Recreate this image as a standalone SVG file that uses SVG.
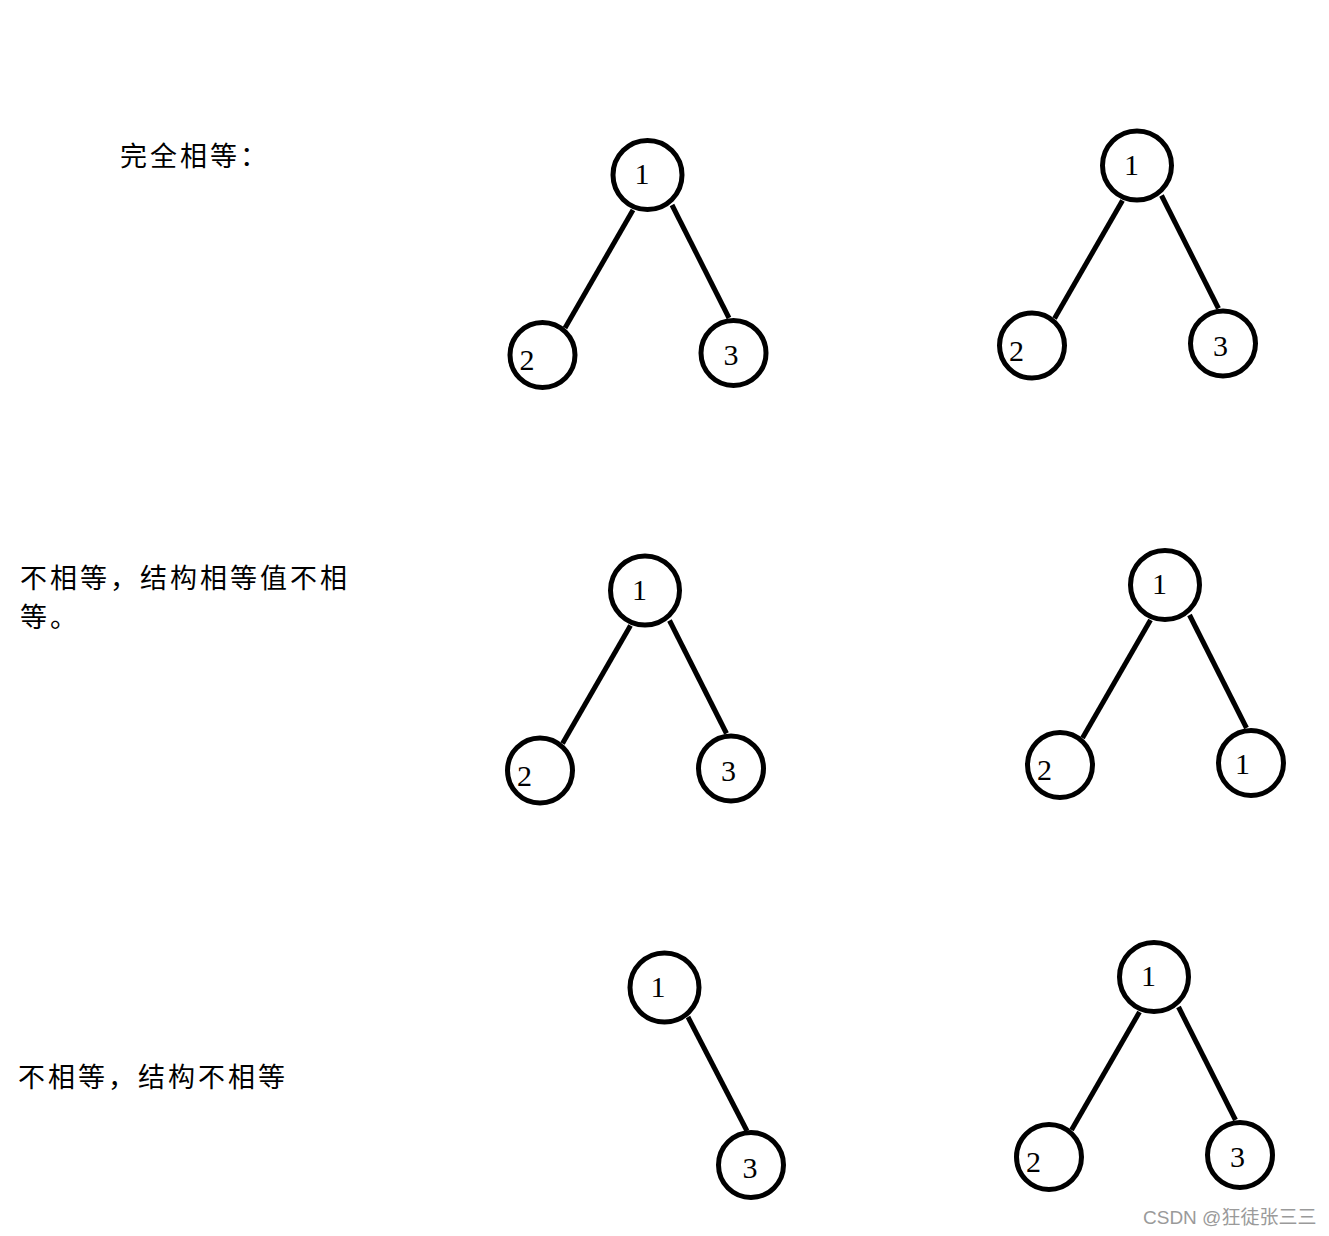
<svg xmlns="http://www.w3.org/2000/svg" width="1329" height="1236" viewBox="0 0 1329 1236">
<style>
.n{fill:#fff;stroke:#000;stroke-width:5}
.e{stroke:#000;stroke-width:5;fill:none}
.d{font-family:"Liberation Serif","DejaVu Serif",serif;font-size:30px;fill:#000;text-anchor:middle}
.t{font-family:"Noto Sans CJK SC","Noto Sans",sans-serif;font-size:27px;letter-spacing:3px;fill:#000}
.w{font-family:"Liberation Sans","Noto Sans CJK SC",sans-serif;font-size:19px;fill:#9a9a9a}
</style>
<rect width="1329" height="1236" fill="#fff"/>
<g id="labels">
<text class="t" x="120" y="166">完全相等：</text>
<text class="t" x="20" y="588">不相等，结构相等值不相</text>
<text class="t" x="20" y="627">等。</text>
<text class="t" x="18" y="1087">不相等，结构不相等</text>
</g>
<g id="connectors">
<g transform="translate(0,0)"><line class="e" x1="633" y1="210" x2="565" y2="328"/><line class="e" x1="672" y1="205" x2="729" y2="318"/></g>
<g transform="translate(489.5,-9.5)"><line class="e" x1="633" y1="210" x2="565" y2="328"/><line class="e" x1="672" y1="205" x2="729" y2="318"/></g>
<g transform="translate(-2.5,415.5)"><line class="e" x1="633" y1="210" x2="565" y2="328"/><line class="e" x1="672" y1="205" x2="729" y2="318"/></g>
<g transform="translate(517.5,410)"><line class="e" x1="633" y1="210" x2="565" y2="328"/><line class="e" x1="672" y1="205" x2="729" y2="318"/></g>
<line class="e" x1="688" y1="1017" x2="747" y2="1131"/>
<g transform="translate(506.5,802)"><line class="e" x1="633" y1="210" x2="565" y2="328"/><line class="e" x1="672" y1="205" x2="729" y2="318"/></g>
</g>
<g id="tree1">
<g id="t1-root"><circle class="n" cx="647.5" cy="175" r="34.5"/><text class="d" x="642" y="184">1</text></g>
<g id="t1-left"><circle class="n" cx="542.5" cy="355" r="32.5"/><text class="d" x="527" y="370">2</text></g>
<g id="t1-right"><circle class="n" cx="733.5" cy="353" r="32.5"/><text class="d" x="731" y="365">3</text></g>
</g>
<g id="tree2" transform="translate(489.5,-9.5)">
<g id="t2-root"><circle class="n" cx="647.5" cy="175" r="34.5"/><text class="d" x="642" y="184">1</text></g>
<g id="t2-left"><circle class="n" cx="542.5" cy="355" r="32.5"/><text class="d" x="527" y="370">2</text></g>
<g id="t2-right"><circle class="n" cx="733.5" cy="353" r="32.5"/><text class="d" x="731" y="365">3</text></g>
</g>
<g id="tree3" transform="translate(-2.5,415.5)">
<g id="t3-root"><circle class="n" cx="647.5" cy="175" r="34.5"/><text class="d" x="642" y="184">1</text></g>
<g id="t3-left"><circle class="n" cx="542.5" cy="355" r="32.5"/><text class="d" x="527" y="370">2</text></g>
<g id="t3-right"><circle class="n" cx="733.5" cy="353" r="32.5"/><text class="d" x="731" y="365">3</text></g>
</g>
<g id="tree4" transform="translate(517.5,410)">
<g id="t4-root"><circle class="n" cx="647.5" cy="175" r="34.5"/><text class="d" x="642" y="184">1</text></g>
<g id="t4-left"><circle class="n" cx="542.5" cy="355" r="32.5"/><text class="d" x="527" y="370">2</text></g>
<g id="t4-right"><circle class="n" cx="733.5" cy="353" r="32.5"/><text class="d" x="725" y="364">1</text></g>
</g>
<g id="tree5">
<g id="t5-root"><circle class="n" cx="664.5" cy="987.5" r="34.5"/><text class="d" x="658" y="997">1</text></g>
<g id="t5-right"><circle class="n" cx="751" cy="1165" r="32.5"/><text class="d" x="750" y="1178">3</text></g>
</g>
<g id="tree6" transform="translate(506.5,802)">
<g id="t6-root"><circle class="n" cx="647.5" cy="175" r="34.5"/><text class="d" x="642" y="184">1</text></g>
<g id="t6-left"><circle class="n" cx="542.5" cy="355" r="32.5"/><text class="d" x="527" y="370">2</text></g>
<g id="t6-right"><circle class="n" cx="733.5" cy="353" r="32.5"/><text class="d" x="731" y="365">3</text></g>
</g>
<text class="w" x="1143" y="1224">CSDN @狂徒张三三</text>
</svg>
